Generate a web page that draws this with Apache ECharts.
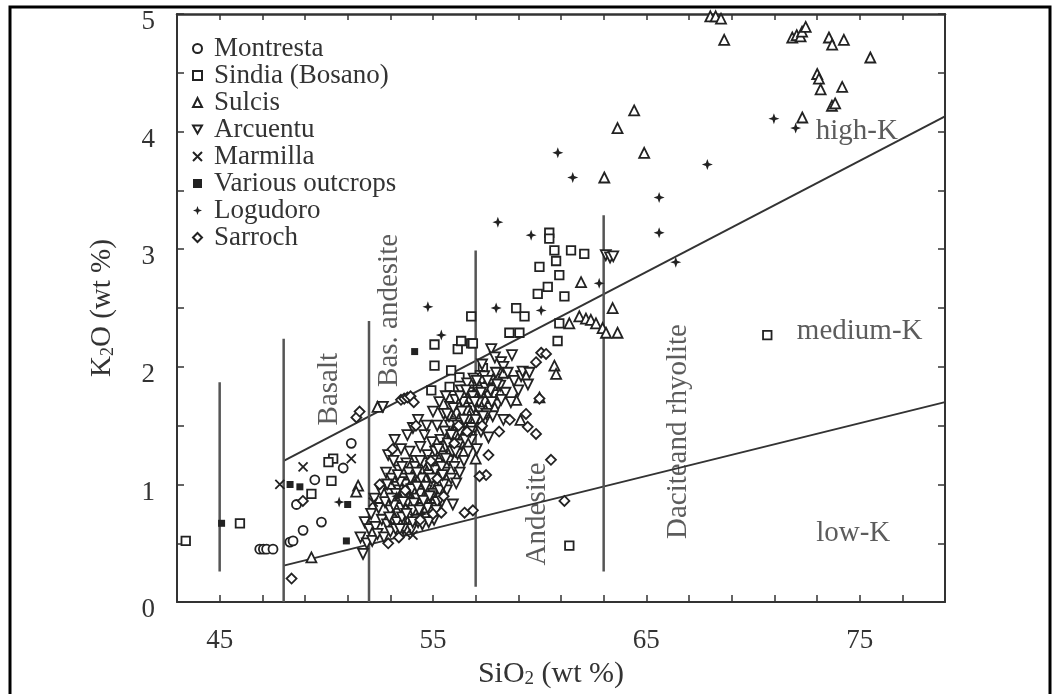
<!DOCTYPE html>
<html>
<head>
<meta charset="utf-8">
<title>K2O vs SiO2</title>
<script src="https://cdn.jsdelivr.net/npm/echarts@6/dist/echarts.min.js"></script>
<style>
  html, body { margin: 0; padding: 0; background: #fff; }
  #chart { width: 1061px; height: 694px; }
</style>
</head>
<body>
<div id="chart"></div>
<script>
// axis ticks / labels
const xTicks = [45, 47, 49, 51, 53, 55, 57, 59, 61, 63, 65, 67, 69, 71, 73, 75, 77]
const xLabels = [45, 55, 65, 75]

// field boundaries (SiO2, K2O)
const highKLine = [[48, 1.2], [79, 4.13]]
const lowKLine = [[48, 0.31], [79, 1.70]]
const divider45 = [[45, 0.26], [45, 1.87]]
const divider48 = [[48, 0], [48, 2.24]]
const divider52 = [[52, 0], [52, 2.39]]
const divider57 = [[57, 0.13], [57, 2.99]]
const divider63 = [[63, 0.26], [63, 3.29]]

const montresta = [
  [46.88, 0.45], [47.05, 0.45], [47.2, 0.45], [47.5, 0.45], [48.29, 0.51], [48.44, 0.52],
  [48.91, 0.61], [48.6, 0.83], [49.77, 0.68], [49.46, 1.04], [50.79, 1.14], [51.17, 1.35]
]
const sindia = [
  [43.41, 0.52], [45.95, 0.67], [49.3, 0.92], [50.24, 1.03], [50.32, 1.22], [50.1, 1.19],
  [54.92, 1.80], [55.07, 2.01], [55.07, 2.19], [55.78, 1.83], [55.85, 1.97], [56.24, 1.91],
  [56.16, 2.15], [56.32, 2.22], [56.79, 2.20], [56.79, 2.43], [56.87, 2.20], [57.34, 1.99],
  [57.2, 1.93], [57.6, 1.86], [58.0, 1.90], [57.4, 1.80], [58.58, 2.29], [59.05, 2.29],
  [58.9, 2.50], [59.29, 2.43], [59.91, 2.62], [60.38, 2.68], [59.99, 2.85], [60.92, 2.78],
  [60.77, 2.90], [60.69, 2.99], [61.47, 2.99], [62.09, 2.96], [60.45, 3.14], [60.45, 3.09],
  [61.16, 2.60], [60.92, 2.37], [60.84, 2.22], [61.39, 0.48], [70.67, 2.27]
]
const sulcis = [
  [68.0, 4.98], [68.25, 4.98], [68.5, 4.96], [68.65, 4.78], [71.84, 4.80], [72.05, 4.82],
  [72.23, 4.81], [72.3, 4.85], [72.47, 4.89], [73.56, 4.80], [73.71, 4.74], [74.26, 4.78],
  [75.5, 4.63], [73.01, 4.49], [73.09, 4.45], [73.17, 4.36], [74.18, 4.38], [73.7, 4.22],
  [73.85, 4.24], [72.31, 4.12], [64.43, 4.18], [63.65, 4.03], [64.9, 3.82], [63.03, 3.61],
  [61.94, 2.72], [63.42, 2.50], [63.65, 2.29], [61.39, 2.37], [61.86, 2.43], [62.17, 2.41],
  [62.4, 2.40], [62.64, 2.37], [62.95, 2.33], [63.11, 2.29], [60.69, 2.01], [60.77, 1.94],
  [59.99, 1.74], [51.49, 0.99], [51.4, 0.94], [49.3, 0.38], [52.4, 1.66], [55.7, 1.62],
  [57.0, 1.22], [58.9, 1.72], [59.1, 1.55], [58.3, 1.95]
]
const arcuentu = [
  [51.6, 0.55], [51.72, 0.41], [51.8, 0.68], [51.9, 0.50], [52.0, 0.62],
  [52.1, 0.75], [52.15, 0.52], [52.25, 0.88], [52.3, 0.64], [52.4, 0.58], [52.45, 0.80],
  [52.55, 0.95], [52.6, 0.70], [52.65, 1.66], [52.7, 0.55], [52.75, 0.85], [52.8, 1.10],
  [52.85, 0.66], [52.9, 1.25], [52.95, 0.92], [53.0, 0.60], [53.0, 0.78],
  [53.05, 1.05], [53.1, 0.70], [53.15, 1.20], [53.2, 0.88], [53.25, 0.62], [53.3, 0.98],
  [53.35, 0.75], [53.4, 1.12], [53.45, 0.84], [53.5, 0.66], [53.55, 0.93], [53.6, 1.05],
  [53.65, 0.78], [53.7, 0.88], [53.75, 1.18], [53.8, 0.70], [53.85, 0.98], [53.9, 1.28],
  [53.95, 0.82], [54.0, 0.62],
  [54.05, 0.92], [54.06, 1.48], [54.1, 1.06], [54.15, 0.76], [54.2, 1.20], [54.25, 0.88],
  [54.3, 0.68], [54.35, 1.00], [54.4, 1.32], [54.45, 0.80], [54.5, 1.12], [54.55, 0.94],
  [54.6, 1.42], [54.65, 0.72], [54.7, 1.04], [54.75, 1.25], [54.8, 0.86], [54.85, 1.15],
  [54.9, 0.98], [54.95, 1.36],
  [55.0, 0.80], [55.05, 1.08], [55.1, 1.28], [55.15, 0.92], [55.2, 1.50], [55.25, 1.18],
  [55.3, 1.02], [55.35, 1.38], [55.4, 0.85], [55.45, 1.24], [55.5, 1.60], [55.55, 1.10],
  [55.6, 1.32], [55.65, 0.95], [55.7, 1.45], [55.75, 1.20], [55.8, 1.66], [55.85, 1.05],
  [55.9, 1.36], [55.93, 0.83], [55.95, 1.52],
  [56.0, 1.15], [56.05, 1.72], [56.09, 1.01], [56.1, 1.40], [56.15, 1.26], [56.2, 1.58],
  [56.25, 1.10], [56.3, 1.80], [56.35, 1.34], [56.4, 1.48], [56.45, 1.20], [56.5, 1.65],
  [56.55, 1.42], [56.6, 1.86], [56.65, 1.28], [56.7, 1.55], [56.75, 1.70], [56.8, 1.38],
  [56.85, 1.62], [56.9, 1.90], [56.95, 1.48],
  [57.0, 1.75], [57.05, 1.30], [57.1, 1.58], [57.2, 1.85], [57.25, 1.45], [57.3, 1.68],
  [57.4, 1.92], [57.45, 1.55], [57.5, 1.78], [57.6, 1.40], [57.65, 1.65], [57.7, 1.88],
  [57.8, 1.58], [57.85, 1.76], [57.95, 1.95], [57.3, 2.02], [57.73, 2.15], [57.9, 2.08],
  [58.05, 1.68], [58.15, 1.84], [58.19, 2.04], [58.3, 1.55], [58.3, 2.00], [58.4, 1.78],
  [58.5, 1.95], [58.65, 1.70], [58.7, 2.10], [58.8, 1.88], [59.0, 1.80], [59.13, 1.92],
  [59.2, 1.96], [59.45, 1.85], [59.52, 1.95],
  // dense core, lower left
  [53.3, 0.68], [53.4, 0.95], [53.5, 0.80], [53.6, 0.62], [53.7, 1.00], [53.8, 0.85],
  [53.9, 0.74], [54.0, 0.96], [54.1, 0.84], [54.2, 0.70], [54.3, 1.05], [54.4, 0.92],
  [54.5, 0.66], [54.6, 0.85], [54.7, 0.95], [54.8, 1.08], [54.9, 0.76], [55.0, 0.92],
  [55.1, 1.12], [55.2, 0.85], [55.3, 0.95], [55.4, 1.15], [55.5, 1.00], [53.55, 0.72],
  [53.85, 1.10], [54.15, 1.15], [54.45, 1.05], [54.75, 0.80], [55.05, 0.70], [53.45, 1.02],
  [54.05, 0.78], [54.55, 0.86], [53.15, 0.82], [53.65, 0.90], [54.25, 0.98], [54.85, 0.90],
  [53.25, 0.92], [53.35, 1.08], [53.45, 0.62], [53.55, 1.15], [53.75, 0.75], [53.95, 1.05],
  [54.05, 0.68], [54.25, 1.10], [54.35, 0.78], [54.55, 1.18], [54.65, 0.98], [54.8, 0.68],
  [54.95, 1.05], [55.15, 0.78], [55.25, 1.30], [55.35, 0.88], [55.45, 1.08], [53.05, 0.88],
  [52.95, 0.72], [52.85, 1.00], [53.6, 0.85], [54.4, 1.20], [55.0, 1.20],
  // dense core, upper right
  [55.6, 1.22], [55.7, 1.35], [55.8, 1.50], [55.9, 1.28], [56.0, 1.42], [56.1, 1.60],
  [56.2, 1.34], [56.3, 1.52], [56.4, 1.70], [56.5, 1.38], [56.6, 1.55], [56.7, 1.78],
  [56.8, 1.48], [56.9, 1.65], [57.0, 1.55], [57.1, 1.80], [57.2, 1.62], [57.3, 1.88],
  [57.4, 1.70], [57.5, 1.60], [57.6, 1.75], [57.7, 1.80], [56.25, 1.45], [56.55, 1.62],
  [56.85, 1.75], [57.15, 1.70], [57.45, 1.82], [55.75, 1.58], [56.05, 1.28], [56.35, 1.62],
  [55.55, 1.45], [55.65, 1.60], [55.85, 1.42], [55.95, 1.65], [56.15, 1.50], [56.25, 1.75],
  [56.45, 1.55], [56.55, 1.80], [56.75, 1.45], [56.95, 1.70], [57.05, 1.88], [57.25, 1.78],
  [57.35, 1.58], [57.55, 1.88], [57.75, 1.70], [58.0, 1.85], [58.2, 1.72],
  // tongue towards the upper boundary
  [53.2, 1.38], [53.5, 1.30], [53.8, 1.42], [54.3, 1.55], [54.7, 1.50], [55.0, 1.62],
  [55.3, 1.70], [55.6, 1.75],
  [63.1, 2.95], [63.3, 2.93], [63.45, 2.94]
]
const marmilla = [
  [47.82, 1.0], [48.91, 1.15], [51.17, 1.22], [53.75, 0.58], [54.06, 0.57], [52.2, 0.85]
]
const variousOutcrops = [
  [45.09, 0.67], [48.3, 1.0], [48.76, 0.98], [50.94, 0.52], [51.0, 0.83], [54.14, 2.13]
]
const logudoro = [
  [54.76, 2.51], [55.39, 2.27], [57.96, 2.50], [58.04, 3.23], [59.6, 3.12], [60.07, 2.48],
  [60.85, 3.82], [61.55, 3.61], [62.79, 2.71], [65.6, 3.44], [65.6, 3.14], [66.38, 2.89],
  [67.86, 3.72], [70.98, 4.11], [72.0, 4.03], [50.6, 0.85], [53.3, 0.9], [54.5, 0.75]
]
const sarroch = [
  [48.37, 0.20], [48.9, 0.86], [51.41, 1.57], [51.56, 1.62], [53.5, 1.72], [53.65, 1.73],
  [53.8, 1.74], [53.95, 1.75], [54.1, 1.70], [59.36, 1.60], [59.44, 1.49], [59.83, 1.43],
  [60.53, 1.21], [61.16, 0.86], [57.49, 1.08], [57.18, 1.07], [56.87, 0.78], [56.48, 0.76],
  [55.0, 0.75], [55.39, 0.76], [59.99, 1.73], [60.07, 2.12], [60.3, 2.11], [59.83, 2.04],
  [52.5, 1.0], [53.1, 1.3], [53.4, 0.55], [54.2, 1.5], [54.9, 1.2], [55.5, 0.9],
  [56.2, 1.5], [57.6, 1.25], [58.1, 1.45], [58.6, 1.55], [52.9, 0.5],
  [53.7, 0.95], [54.4, 0.7], [55.2, 1.05], [56.0, 1.35], [56.6, 1.45], [57.3, 1.5]
]

// text placed inside the plot: [text, SiO2, K2O, rotate]
const regionLabels = [
  ['Basalt', 50.16, 1.81, 90],
  ['Bas. andesite', 52.97, 2.48, 90],
  ['Andesite', 59.9, 0.75, 90],
  ['Daciteand rhyolite', 66.5, 1.45, 90],
  ['high-K', 74.87, 4.0, 0],
  ['medium-K', 75.0, 2.30, 0],
  ['low-K', 74.7, 0.58, 0]
]

const FONT = "'Liberation Serif', 'Times New Roman', serif"
const INK = '#222'

const chart = echarts.init(document.getElementById('chart'))

function pointSeries(name, data, symbol, size, filled) {
  return {
    name: name,
    type: 'scatter',
    data: data,
    symbol: symbol,
    symbolSize: size,
    itemStyle: {
      color: filled ? INK : '#fff',
      borderColor: INK,
      borderWidth: filled ? 0 : 1.8,
      opacity: 1
    },
    z: 5
  }
}

function lineSeries(data, width, color) {
  return {
    type: 'line',
    data: data,
    symbol: 'none',
    silent: true,
    lineStyle: { color: color, width: width },
    z: 3
  }
}

const downTri = 'path://M0,0 L10,0 L5,9 Z'
const cross = 'path://M0,0 L10,10 M10,0 L0,10'
const star = 'path://M5,0 L6.3,3.7 L10,5 L6.3,6.3 L5,10 L3.7,6.3 L0,5 L3.7,3.7 Z'

const crossSeries = pointSeries('Marmilla', marmilla, cross, 9, false)
crossSeries.itemStyle.borderWidth = 1.8

const option = {
  animation: false,
  backgroundColor: '#fff',
  textStyle: { fontFamily: FONT },
  grid: { left: 177, right: 116, top: 14, bottom: 85 },
  graphic: [
    {
      type: 'rect',
      silent: true,
      shape: { x: 10, y: 7, width: 1040, height: 720 },
      style: { fill: 'none', stroke: '#000', lineWidth: 3 }
    }
  ],
  legend: {
    orient: 'vertical',
    left: 187,
    top: 30,
    itemWidth: 9,
    itemHeight: 9,
    itemGap: 0,
    selectedMode: false,
    data: ['Montresta', 'Sindia (Bosano)', 'Sulcis', 'Arcuentu', 'Marmilla',
      'Various outcrops', 'Logudoro', 'Sarroch'],
    textStyle: {
      fontFamily: FONT,
      fontSize: 27,
      lineHeight: 25.6,
      color: '#333',
      padding: [0, 0, 0, 7]
    }
  },
  xAxis: [
    {
      type: 'value',
      min: 43,
      max: 79,
      position: 'bottom',
      name: '{n|SiO}{s|2}{n| (wt %)}',
      nameLocation: 'middle',
      nameGap: 53,
      nameTextStyle: {
        padding: [0, 20, 0, 0],
        rich: {
          n: { fontFamily: FONT, fontSize: 30, color: '#333', lineHeight: 30 },
          s: { fontFamily: FONT, fontSize: 19, color: '#333', verticalAlign: 'bottom' }
        }
      },
      axisLine: { onZero: false, lineStyle: { color: '#333', width: 2 } },
      axisTick: { inside: true, length: 7, customValues: xTicks, lineStyle: { color: '#333', width: 1.5 } },
      axisLabel: { customValues: xLabels, fontFamily: FONT, fontSize: 27, color: '#333', margin: 25 },
      splitLine: { show: false }
    },
    {
      type: 'value',
      min: 43,
      max: 79,
      position: 'top',
      axisLine: { onZero: false, lineStyle: { color: '#333', width: 2.5 } },
      axisTick: { inside: true, length: 6, customValues: xTicks, lineStyle: { color: '#333', width: 1.5 } },
      axisLabel: { show: false },
      splitLine: { show: false }
    }
  ],
  yAxis: [
    {
      type: 'value',
      min: 0,
      max: 5,
      interval: 0.5,
      position: 'left',
      name: '{n|K}{s|2}{n|O (wt %)}',
      nameLocation: 'middle',
      nameGap: 60,
      nameTextStyle: {
        rich: {
          n: { fontFamily: FONT, fontSize: 29, color: '#333', lineHeight: 29 },
          s: { fontFamily: FONT, fontSize: 18, color: '#333', verticalAlign: 'bottom' }
        }
      },
      axisLine: { onZero: false, lineStyle: { color: '#333', width: 2 } },
      axisTick: { inside: true, length: 7, lineStyle: { color: '#333', width: 1.5 } },
      axisLabel: {
        fontFamily: FONT,
        fontSize: 27,
        color: '#333',
        margin: 22,
        verticalAlign: 'top',
        lineHeight: 16,
        formatter: function (v) { return v % 1 === 0 ? String(v) : '' }
      },
      splitLine: { show: false }
    },
    {
      type: 'value',
      min: 0,
      max: 5,
      interval: 0.5,
      position: 'right',
      axisLine: { onZero: false, lineStyle: { color: '#333', width: 2 } },
      axisTick: { inside: true, length: 7, lineStyle: { color: '#333', width: 1.5 } },
      axisLabel: { show: false },
      splitLine: { show: false }
    }
  ],
  series: [
    lineSeries(highKLine, 2, '#333'),
    lineSeries(lowKLine, 2, '#333'),
    lineSeries(divider45, 2.5, '#555'),
    lineSeries(divider48, 2.5, '#555'),
    lineSeries(divider52, 2.5, '#555'),
    lineSeries(divider57, 2.5, '#555'),
    lineSeries(divider63, 2.5, '#555'),
    pointSeries('Montresta', montresta, 'circle', 9, false),
    pointSeries('Sindia (Bosano)', sindia, 'rect', 8.5, false),
    pointSeries('Sulcis', sulcis, 'triangle', 10, false),
    pointSeries('Arcuentu', arcuentu, downTri, 10, false),
    crossSeries,
    pointSeries('Various outcrops', variousOutcrops, 'rect', 7, true),
    pointSeries('Logudoro', logudoro, star, 11, true),
    pointSeries('Sarroch', sarroch, 'diamond', 10, false),
    {
      type: 'scatter',
      silent: true,
      symbolSize: 0,
      z: 6,
      label: {
        show: true,
        position: 'inside',
        fontFamily: FONT,
        fontSize: 29,
        color: '#333',
        formatter: function (p) { return p.name }
      },
      data: regionLabels.map(function (r) {
        return { name: r[0], value: [r[1], r[2]], label: { rotate: r[3] } }
      })
    }
  ]
}

chart.setOption(option)
</script>
</body>
</html>
